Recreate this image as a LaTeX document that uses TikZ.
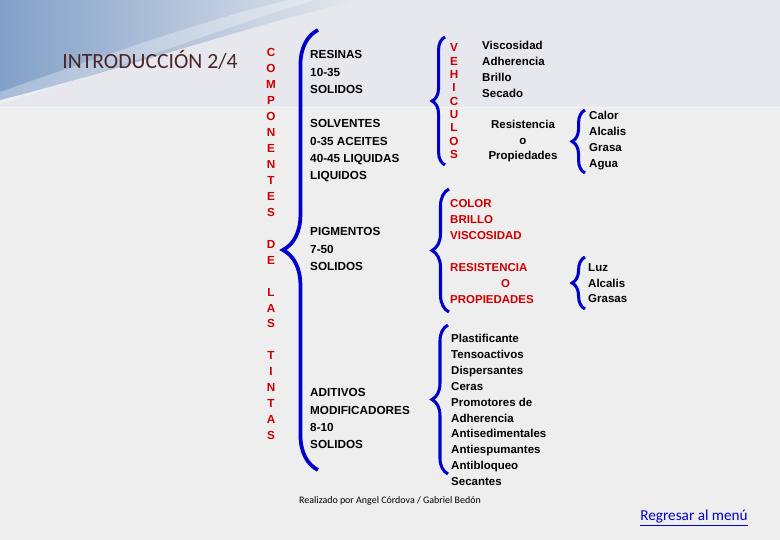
\documentclass[tikz,border=0pt]{standalone}
\usepackage{fontspec}
\setmainfont{Liberation Sans}
\newfontfamily\slidefont{Carlito}
\usetikzlibrary{decorations.pathreplacing}

\definecolor{tintared}{RGB}{204,0,0}
\definecolor{llaveblue}{RGB}{0,0,204}
\definecolor{titlebrown}{RGB}{75,38,40}
\definecolor{slidegray}{RGB}{238,238,238}
\definecolor{slideblue}{RGB}{130,160,200}
\definecolor{bandgray}{RGB}{230,232,237}

\tikzset{
  llave/.style={draw=llaveblue, line width=2.6pt, decorate,
    decoration={brace, amplitude=#1}},
  item/.style={anchor=north west, inner sep=0pt, align=left,
    font=\bfseries\fontsize{10}{14.6}\selectfont},
  subitem/.style={anchor=north west, inner sep=0pt, align=left,
    font=\bfseries\fontsize{9.8}{13.6}\selectfont},
  letras/.style={anchor=north, inner sep=0pt, align=center, text=tintared,
    font=\bfseries\fontsize{10}{13.61}\selectfont}
}

\begin{document}
\begin{tikzpicture}[x=0.03cm, y=-0.03cm]
  \useasboundingbox (0,0) rectangle (780,540);

  % fondo de la diapositiva
  \fill[slidegray] (0,0) rectangle (780,540);
  \fill[bandgray] (0,0) rectangle (780,107);
  \shade[left color=slideblue, right color=bandgray] (0,0) -- (360,0)
    .. controls (250,25) and (120,70) .. (0,100) -- cycle;
  \fill[white, opacity=0.3] (0,92) .. controls (120,50) and (220,15) .. (290,0)
    -- (315,0) .. controls (230,25) and (130,65) .. (0,104) -- cycle;
  \fill[white, opacity=0.5] (0,107) rectangle (780,108.5);

  % titulo
  \node[font=\slidefont\fontsize{18.5}{20}\selectfont, text=titlebrown, inner sep=0pt]
    (titulo) at (150,60) {INTRODUCCIÓN 2/4};

  % letras verticales
  \node[letras] (componentes) at (271,48.5)
    {C\\O\\M\\P\\O\\N\\E\\N\\T\\E\\S\\~\\D\\E\\~\\L\\A\\S\\~\\T\\I\\N\\T\\A\\S};
  \node[letras, font=\bfseries\fontsize{10}{11.4}\selectfont] (vehiculos) at (454,43.5)
    {V\\E\\H\\I\\C\\U\\L\\O\\S};

  % llave principal
  \draw[llave=30pt, line width=3.2pt] (318,470) -- (318,30);

  % componentes
  \node[item] (resinas) at (310,50.5) {RESINAS\\10-35\\SOLIDOS};
  \node[item] (solventes) at (310,119.5) {SOLVENTES\\0-35 ACEITES\\40-45 LIQUIDAS\\LIQUIDOS};
  \node[item] (pigmentos) at (310,227.5) {PIGMENTOS\\7-50\\SOLIDOS};
  \node[item] (aditivos) at (310,388.5) {ADITIVOS\\MODIFICADORES\\8-10\\SOLIDOS};

  % vehiculos
  \draw[llave=11pt] (445,165) -- (445,37);
  \node[subitem] (propvehiculo) at (482,41) {Viscosidad\\Adherencia\\Brillo\\Secado};
  \node[subitem, anchor=north, align=center, font=\bfseries\fontsize{9.8}{13.2}\selectfont]
    (resistencia) at (523,120) {Resistencia\\o\\Propiedades};
  \draw[llave=11pt] (585,173) -- (585,110);
  \node[subitem] (calor) at (589,111) {Calor\\Alcalis\\Grasa\\Agua};

  % pigmentos
  \draw[llave=14.5pt] (449,312) -- (449,189);
  \node[subitem, text=tintared] (color) at (450,199.5) {COLOR\\BRILLO\\VISCOSIDAD};
  \node[subitem, text=tintared] (resistpig) at (450,263.5)
    {RESISTENCIA\\\hspace*{43.5pt}O\\PROPIEDADES};
  \draw[llave=11pt] (585,309) -- (585,257);
  \node[subitem, font=\bfseries\fontsize{9.8}{13.2}\selectfont] (luz) at (588,263.5)
    {Luz\\Alcalis\\Grasas};

  % aditivos
  \draw[llave=13.7pt] (448,474) -- (448,325);
  \node[subitem, font=\bfseries\fontsize{9.8}{13.57}\selectfont] (aditlist) at (451,334)
    {Plastificante\\Tensoactivos\\Dispersantes\\Ceras\\Promotores de\\Adherencia\\
     Antisedimentales\\Antiespumantes\\Antibloqueo\\Secantes};

  % pie
  \node[font=\slidefont\fontsize{8.5}{10}\selectfont, inner sep=0pt] (autores) at (390,501)
    {Realizado por Angel Córdova / Gabriel Bedón};
  \node[font=\slidefont\fontsize{13}{14}\selectfont, text=llaveblue, inner sep=0pt]
    (regresar) at (694,518) {\underline{Regresar al menú}};
\end{tikzpicture}
\end{document}
